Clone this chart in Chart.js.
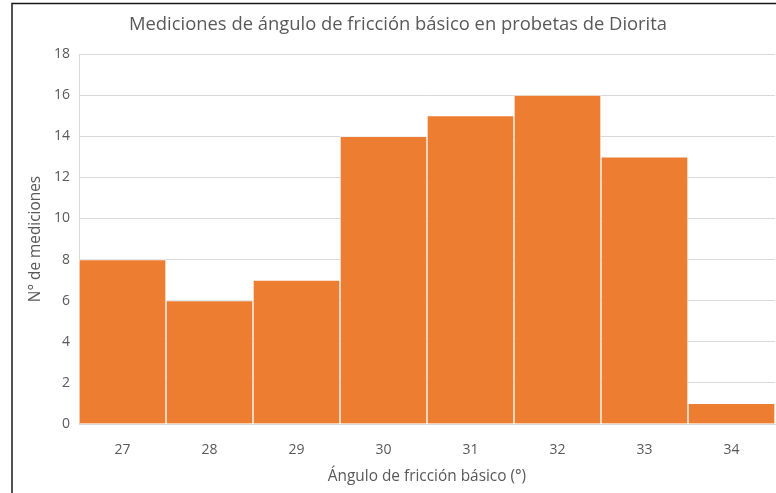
<!DOCTYPE html>
<html><head><meta charset="utf-8">
<script src="https://cdn.jsdelivr.net/npm/chart.js@4"></script>
<style>html,body{margin:0;padding:0;background:#fff}#wrap{width:776px;height:493px}</style>
</head><body><div id="wrap"><canvas id="c" width="776" height="493"></canvas></div>
<script>
const categories = ['27','28','29','30','31','32','33','34'];
const counts = [8, 6, 7, 14, 15, 16, 13, 1];
const chartTitle = 'Mediciones de ángulo de fricción básico en probetas de Diorita';
const xTitle = 'Ángulo de fricción básico (°)';
const yTitle = 'N° de mediciones';
const FONT = "'Open Sans', 'Liberation Sans', sans-serif";
const TXT = '#595959';

const framePlugin = {
  id: 'frame',
  beforeDraw(chart) {
    const ctx = chart.ctx;
    ctx.save();
    ctx.fillStyle = '#fff';
    ctx.fillRect(0, 0, chart.width, chart.height);
    ctx.strokeStyle = '#1a1a1a';
    ctx.lineWidth = 1.5;
    ctx.beginPath();
    ctx.moveTo(12, chart.height + 5);
    ctx.lineTo(12, 3.5);
    ctx.lineTo(chart.width + 5, 3.5);
    ctx.stroke();
    ctx.fillStyle = TXT;
    ctx.font = '18.4px ' + FONT;
    ctx.textAlign = 'center';
    ctx.textBaseline = 'middle';
    ctx.fillText(chartTitle, 398, 25);
    ctx.restore();
  }
};

new Chart(document.getElementById('c'), {
  type: 'bar',
  data: {
    labels: categories,
    datasets: [{
      data: counts,
      backgroundColor: '#ED7D31',
      borderColor: 'rgba(255,255,255,0.6)',
      borderWidth: 1,
      categoryPercentage: 1,
      barPercentage: 1
    }]
  },
  options: {
    responsive: false,
    animation: false,
    devicePixelRatio: 1,
    layout: { padding: { left: 22, top: 54, right: 1, bottom: 3 } },
    plugins: { legend: { display: false }, tooltip: { enabled: false }, title: { display: false } },
    scales: {
      x: {
        grid: { display: false },
        border: { display: true, color: '#d9d9d9' },
        ticks: { color: TXT, font: { family: FONT, size: 14 }, padding: 10 },
        title: { display: true, text: xTitle, color: TXT, font: { family: FONT, size: 15.4 }, padding: { top: 13 } },
        afterFit(s) { s.height = 66; }
      },
      y: {
        min: 0, max: 18,
        ticks: { stepSize: 2, color: TXT, font: { family: FONT, size: 14 }, padding: 9 },
        grid: { color: '#d9d9d9', drawTicks: false },
        border: { display: true, color: '#d9d9d9' },
        title: { display: true, text: yTitle, color: TXT, font: { family: FONT, size: 15.4 }, padding: { bottom: 0 } },
        afterFit(s) { s.width = 57; }
      }
    }
  },
  plugins: [framePlugin]
});
</script></body></html>
